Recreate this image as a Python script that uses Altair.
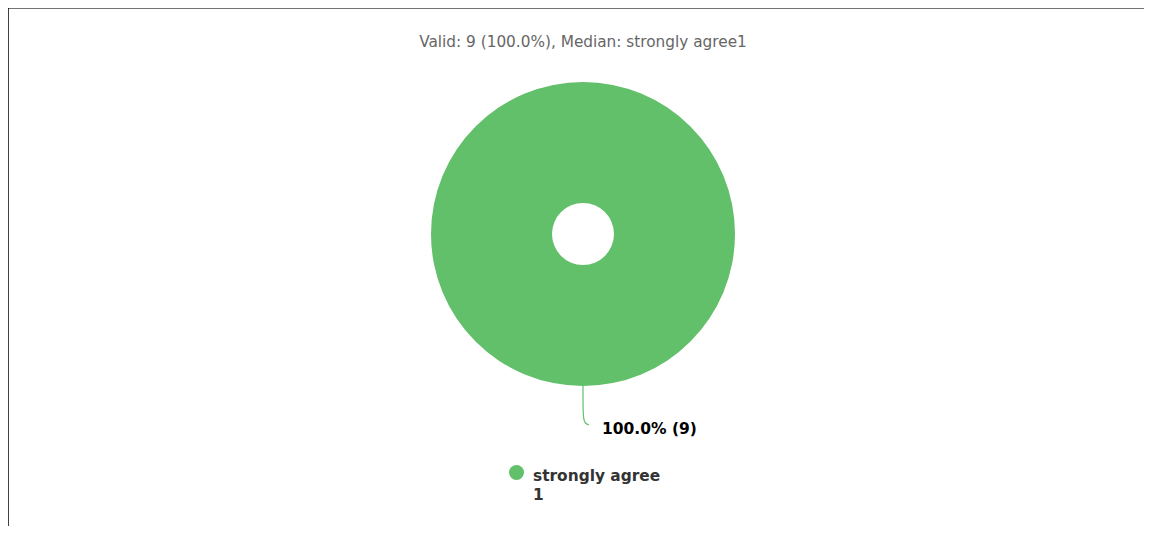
import altair as alt
import pandas as pd

# ---- data ----
categories = ["strongly agree\n1"]
counts = [9]
slice_colors = ["#62bf6a"]
label_texts = ["100.0% (9)"]
# leader line from the slice edge to its label (pixel path, decoration)
leader_x = [575, 575, 575.5, 577, 581]
leader_y = [378, 400, 411, 415.5, 417]

total = sum(counts)
title_text = f"Valid: {total} ({100.0 * total / total:.1f}%), Median: " + categories[0].replace("\n", "")

FONT = "DejaVu Sans"
CX, CY = 575, 226
W, H = 1136, 518

df = pd.DataFrame({"category": categories, "count": counts, "label": label_texts})
leader_df = pd.DataFrame({"x": leader_x, "y": leader_y, "o": list(range(len(leader_x)))})
title_df = pd.DataFrame({"t": [title_text]})
frame_df = pd.DataFrame({"k": [0]})

color_scale = alt.Scale(domain=categories, range=slice_colors)

base = alt.Chart(df)

donut = base.mark_arc(innerRadius=31, outerRadius=152).encode(
    theta=alt.Theta("count:Q", stack=True),
    color=alt.Color("category:N", scale=color_scale, legend=None),
    x=alt.value(CX),
    y=alt.value(CY),
)

labels = base.mark_text(
    radius=200, align="left", dx=19, baseline="alphabetic",
    fontWeight="bold", fontSize=15.5, font=FONT, color="#000000",
).encode(
    theta=alt.Theta("count:Q", stack=True),
    text="label:N",
    x=alt.value(CX),
    y=alt.value(CY),
)

leader = alt.Chart(leader_df).mark_line(
    interpolate="basis", color="#62bf6a", strokeWidth=1.2
).encode(
    x=alt.X("x:Q", scale=None),
    y=alt.Y("y:Q", scale=None),
    order="o:Q",
)

legend_dot = base.mark_point(shape="circle", filled=True, size=225, opacity=1).encode(
    color=alt.Color("category:N", scale=color_scale, legend=None),
    x=alt.value(508.5),
    y=alt.value(464.5),
)

legend_text = base.mark_text(
    align="left", baseline="alphabetic", lineBreak="\n", lineHeight=19,
    fontWeight="bold", fontSize=15.4, font=FONT, color="#333333",
).encode(
    text="category:N",
    x=alt.value(525),
    y=alt.value(473),
)

title = alt.Chart(title_df).mark_text(
    align="center", baseline="alphabetic", fontSize=15.3, font=FONT, color="#666666",
).encode(
    text="t:N",
    x=alt.value(CX),
    y=alt.value(39),
)

frame_top = alt.Chart(frame_df).mark_rule(color="#444444", strokeWidth=1.4).encode(
    x=alt.value(0), x2=alt.value(W), y=alt.value(0)
)
frame_left = alt.Chart(frame_df).mark_rule(color="#111111", strokeWidth=1.6).encode(
    x=alt.value(0), y=alt.value(0), y2=alt.value(H)
)

chart = alt.layer(
    frame_top, frame_left, leader, donut, labels, legend_dot, legend_text, title
).properties(
    width=W,
    height=H,
    autosize=alt.AutoSizeParams(type="none"),
    padding=0,
).configure_view(stroke=None)

chart.save("out.html", embed_options={"renderer": "svg", "actions": False})
